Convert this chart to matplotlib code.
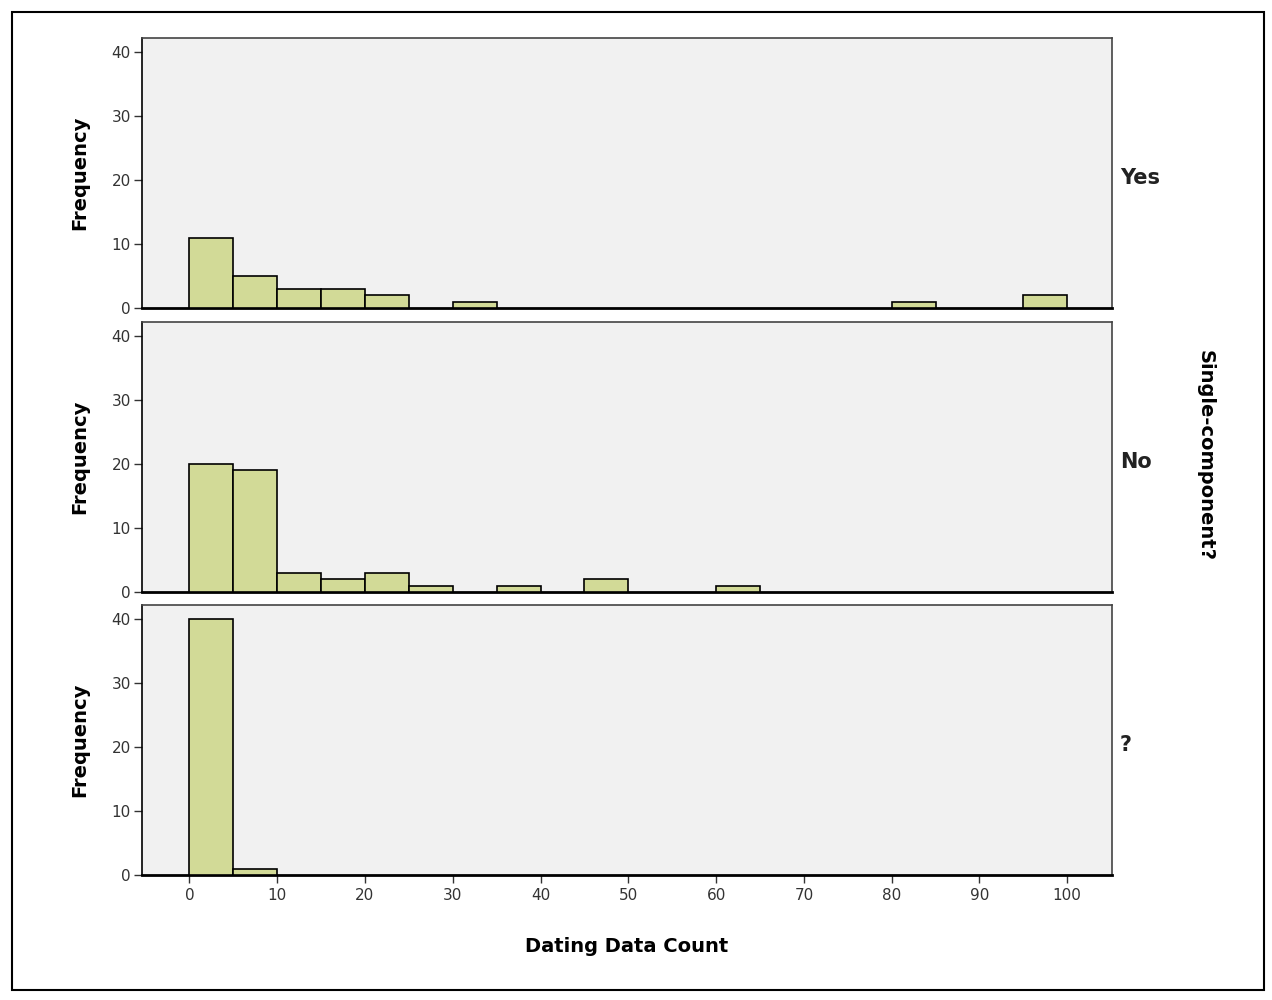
import numpy as np
import matplotlib.pyplot as plt
from matplotlib.patches import Rectangle

# bins of width 5, left edges 0..100
bin_left = np.arange(0, 105, 5)
bin_width = 5

groups = ['Yes', 'No', '?']
counts_yes = [11, 5, 3, 3, 2, 0, 1, 0, 0, 0, 0, 0, 0, 0, 0, 0, 1, 0, 0, 2, 0]
counts_no = [20, 19, 3, 2, 3, 1, 0, 1, 0, 2, 0, 0, 1, 0, 0, 0, 0, 0, 0, 0, 0]
counts_q = [40, 1, 0, 0, 0, 0, 0, 0, 0, 0, 0, 0, 0, 0, 0, 0, 0, 0, 0, 0, 0]
all_counts = [counts_yes, counts_no, counts_q]

x_ticks = [0, 10, 20, 30, 40, 50, 60, 70, 80, 90, 100]
y_ticks = [0, 10, 20, 30, 40]

bar_color = '#d2da97'
panel_bg = '#f1f1f1'

fig = plt.figure(figsize=(12.72, 10), dpi=100)
fig.patch.set_facecolor('white')

# outer frame like the SPSS chart border
fig.patches.append(Rectangle((12 / 1272, 10 / 1000), 1252 / 1272, 978 / 1000,
                             transform=fig.transFigure, fill=False,
                             edgecolor='black', linewidth=1.5))

left, width = 142 / 1272, 970 / 1272
tops = [38, 322, 605]
height = 270 / 1000

axes = []
for i, (grp, cnt) in enumerate(zip(groups, all_counts)):
    bottom = 1 - (tops[i] + 270) / 1000
    ax = fig.add_axes([left, bottom, width, height])
    ax.set_facecolor(panel_bg)
    cnt = np.array(cnt)
    nz = cnt > 0
    ax.bar(bin_left[nz], cnt[nz], width=bin_width, align='edge',
           color=bar_color, edgecolor='black', linewidth=1.2, zorder=3)
    ax.set_xlim(-5.4, 105.1)
    ax.set_ylim(0, 42.2)
    ax.set_yticks(y_ticks)
    ax.tick_params(axis='y', direction='out', length=6, width=1,
                   labelsize=11, colors='#333333', pad=2)
    for s in ax.spines.values():
        s.set_color('#444444')
        s.set_linewidth(1.2)
    ax.spines['bottom'].set_linewidth(2)
    ax.spines['bottom'].set_color('black')
    ax.spines['left'].set_color('black')
    ax.set_ylabel('Frequency', fontsize=14, fontweight='bold', labelpad=16)
    if i < 2:
        ax.set_xticks([])
    else:
        ax.set_xticks(x_ticks)
        ax.tick_params(axis='x', direction='out', length=6, width=1,
                       labelsize=11, colors='#333333', pad=3)
        ax.set_xlabel('Dating Data Count', fontsize=14, fontweight='bold',
                      labelpad=25)
    ax.text(1.008, 0.48, grp, transform=ax.transAxes, fontsize=15,
            fontweight='bold', ha='left', va='center', color='#222222')
    axes.append(ax)

fig.text(1205 / 1272, 1 - 455 / 1000, 'Single-component?', rotation=-90,
         fontsize=14, fontweight='bold', ha='center', va='center')

plt.savefig('out.png', dpi=100)
